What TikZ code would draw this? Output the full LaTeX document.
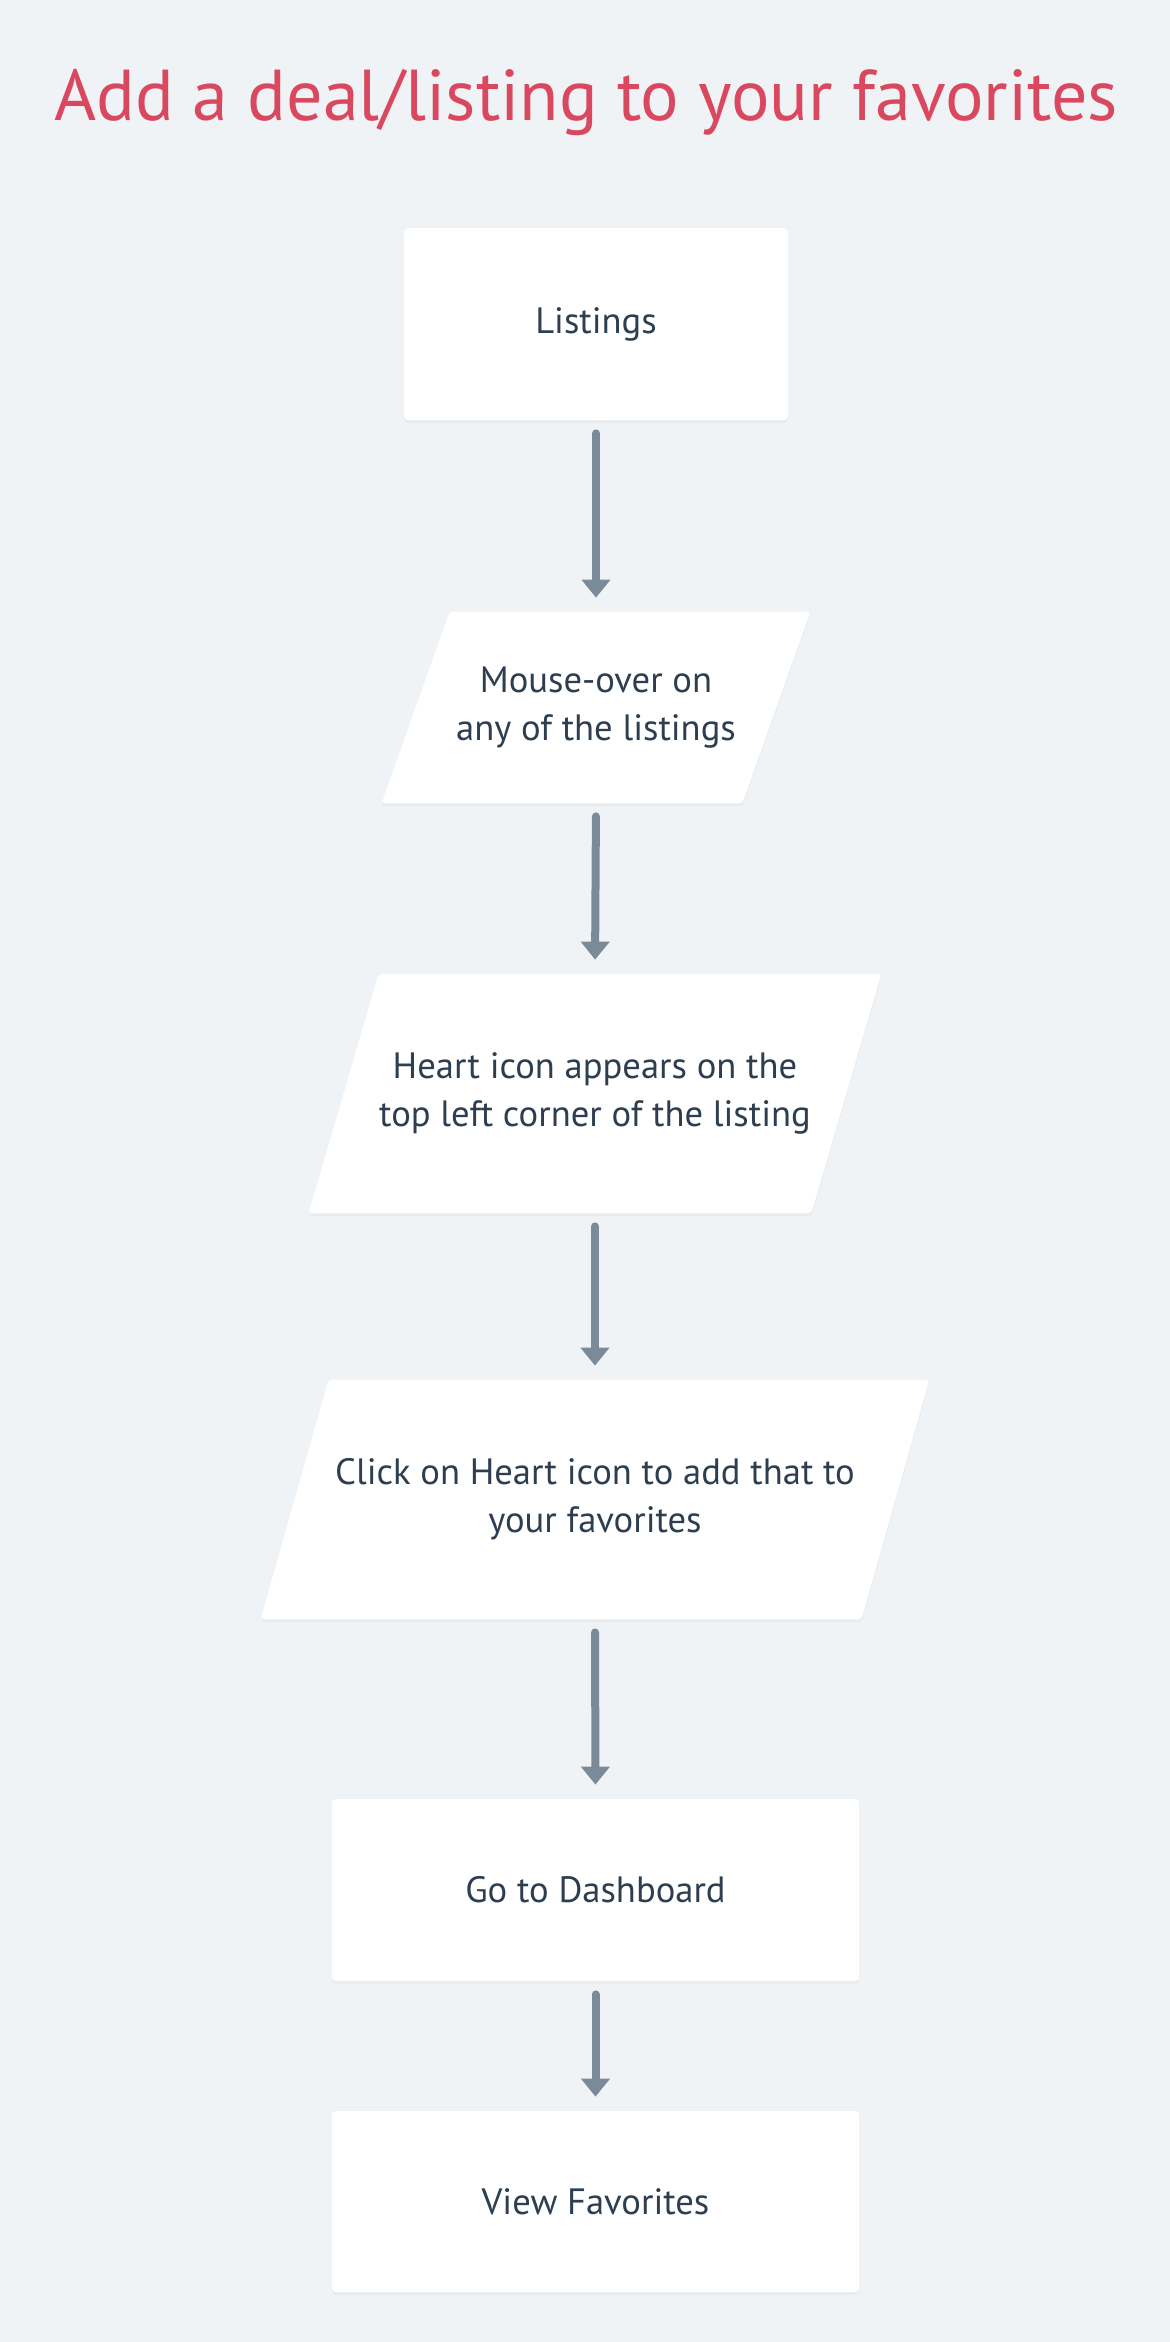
\documentclass[tikz,border=0pt]{standalone}
\usepackage{fontspec}
\setmainfont{PT Sans}
\usetikzlibrary{arrows.meta,shadows,backgrounds}

\definecolor{bgcolor}{HTML}{EFF3F6}
\definecolor{titlered}{HTML}{D9485F}
\definecolor{textdark}{HTML}{2C3E50}
\definecolor{arrowgray}{HTML}{7B8A98}

\begin{document}
\begin{tikzpicture}[x=0.5pt,y=-0.5pt,
  % 方框的style
  liucheng box/.style={fill=white, rounded corners=2pt, text=textdark,
    font=\fontsize{18.3}{24}\selectfont, align=center,
    drop shadow={opacity=0.06, shadow xshift=0pt, shadow yshift=-1.5pt}},
  % 平行四边形里的文字
  liucheng text/.style={text=textdark, font=\fontsize{18.3}{24}\selectfont,
    align=center},
  % 平行四边形的填充
  liucheng para/.style={fill=white, rounded corners=2pt,
    drop shadow={opacity=0.06, shadow xshift=0pt, shadow yshift=-1.5pt}},
  % 箭头的style
  liucheng arrow/.style={draw=arrowgray, line width=4pt, line cap=round,
    -{Triangle[width=14pt,length=9pt]}, shorten <=6.5pt, shorten >=7pt}]

  % 标题
  \node[anchor=base, text=titlered, font=\fontsize{36}{42}\selectfont]
    (title) at (586,120) {Add a deal/listing to your favorites};

  % 各个步骤
  \node[liucheng box, minimum width=192pt, minimum height=96pt]
    (listings) at (596,324) {Listings};
  \node[liucheng text, minimum width=180pt, minimum height=95.5pt]
    (mouseover) at (596,707.5) {Mouse-over on\\any of the listings};
  \node[liucheng text, minimum width=251pt, minimum height=119.5pt]
    (heart) at (595,1093.5) {Heart icon appears on the\\top left corner of the listing};
  \node[liucheng text, minimum width=300pt, minimum height=119.5pt]
    (click) at (595,1499.5) {Click on Heart icon to add that to\\your favorites};
  \node[liucheng box, minimum width=263.5pt, minimum height=91pt]
    (dashboard) at (595.5,1890) {Go to Dashboard};
  \node[liucheng box, minimum width=263.5pt, minimum height=90.5pt]
    (favorites) at (595.5,2201.5) {View Favorites};

  % 背景和平行四边形
  \begin{scope}[on background layer]
    \fill[bgcolor] (0,0) rectangle (1170,2342);
    \foreach \n/\e in {mouseover/17pt, heart/17.5pt, click/17pt}
      \fill[liucheng para] ([xshift=\e]\n.north west) -- ([xshift=\e]\n.north east)
        -- ([xshift=-\e]\n.south east) -- ([xshift=-\e]\n.south west) -- cycle;
  \end{scope}

  % 箭头
  \draw[liucheng arrow] (listings.south) -- (mouseover.north);
  \draw[liucheng arrow] (mouseover.south) -- (heart.north);
  \draw[liucheng arrow] (heart.south) -- (click.north);
  \draw[liucheng arrow] (click.south) -- (dashboard.north);
  \draw[liucheng arrow] (dashboard.south) -- (favorites.north);

\end{tikzpicture}
\end{document}
